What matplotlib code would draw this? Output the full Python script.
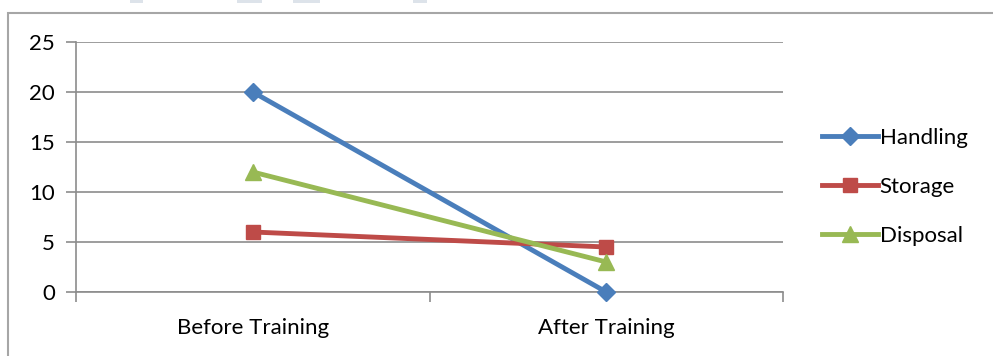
import matplotlib.pyplot as plt
from matplotlib.patches import Rectangle

categories = ['Before Training', 'After Training']
handling = [20, 0]
storage = [6, 4.5]
disposal = [12, 3]
y_ticks = [0, 5, 10, 15, 20, 25]

plt.rcParams['font.family'] = ['Lato', 'DejaVu Sans']

W, H = 993, 356
fig = plt.figure(figsize=(W / 100, H / 100), dpi=100)
ax = fig.add_axes([76 / W, 1 - 292 / H, (783 - 76) / W, (292 - 42) / H])

grid_c = '#8c8c8c'
fs = 16
x = [0.5, 1.5]
series = [
    ('Handling', handling, '#4a7ebb', 'D', 9),
    ('Storage', storage, '#be4b48', 's', 10),
    ('Disposal', disposal, '#98b954', '^', 11),
]
handles = []
for name, vals, col, mk, ms in series:
    ln, = ax.plot(x, vals, color=col, lw=3.5, marker=mk, markersize=ms,
                  markerfacecolor=col, markeredgecolor=col, zorder=3,
                  clip_on=False, label=name)
    handles.append(ln)

ax.set_xlim(0, 2)
ax.set_ylim(0, 25)
ax.set_yticks(y_ticks)
ax.set_xticks([0, 1, 2])
ax.set_xticklabels([])
ax.set_xticks(x, minor=True)
ax.set_xticklabels(categories, minor=True)
ax.tick_params(axis='x', which='minor', length=0, pad=19, labelsize=fs)
ax.tick_params(axis='x', which='major', length=7, color=grid_c, width=1.2)
ax.tick_params(axis='y', length=7, color=grid_c, width=1.2, labelsize=fs, pad=8)
ax.yaxis.grid(True, color=grid_c, lw=1.2)
ax.set_axisbelow(True)
for s in ['top', 'right']:
    ax.spines[s].set_visible(False)
for s in ['left', 'bottom']:
    ax.spines[s].set_color(grid_c)
    ax.spines[s].set_linewidth(1.2)

leg = fig.legend(handles=handles, loc='upper left',
                 bbox_to_anchor=(822 / W, 1 - 128 / H), frameon=False,
                 fontsize=fs, handlelength=2.5, handletextpad=0.1,
                 labelspacing=1.3, borderaxespad=0, borderpad=0)

# outer chart frame
fig.patches.append(Rectangle((8 / W, -0.1), 1.2, 1 - 13 / H + 0.1,
                             transform=fig.transFigure, fill=False,
                             edgecolor='#a6a6a6', lw=1.5))
# faint marks along the top edge
for x0, x1 in [(130, 143), (237, 262), (293, 320), (413, 427)]:
    fig.patches.append(Rectangle((x0 / W, 1 - 3 / H), (x1 - x0) / W, 3 / H,
                                 transform=fig.transFigure,
                                 facecolor='#dde3ea', edgecolor='none'))

fig.savefig('out.png', dpi=100)
